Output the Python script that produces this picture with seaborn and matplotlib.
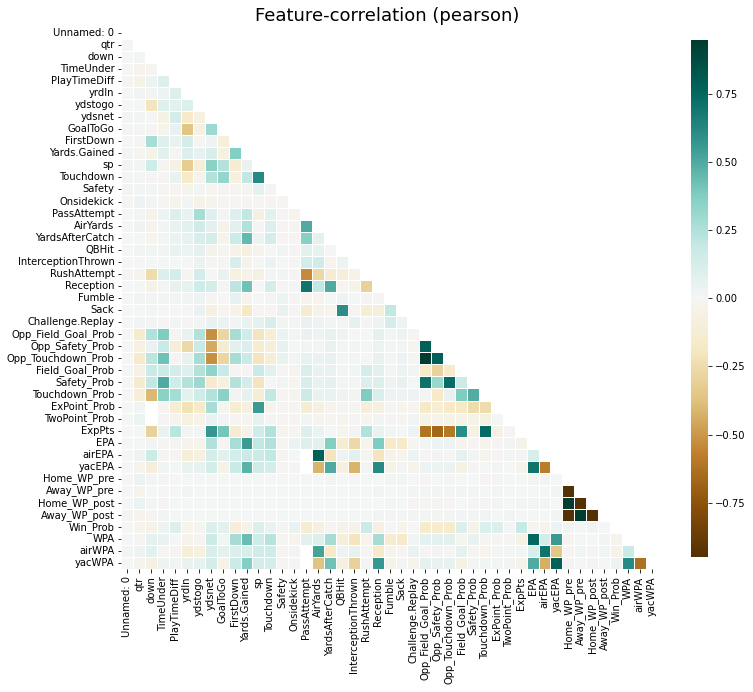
import numpy as np
import matplotlib
matplotlib.use('Agg')
import matplotlib.pyplot as plt
import seaborn as sns

features = ['Unnamed: 0', 'qtr', 'down', 'TimeUnder', 'PlayTimeDiff', 'yrdln', 'ydstogo', 'ydsnet',
            'GoalToGo', 'FirstDown', 'Yards.Gained', 'sp', 'Touchdown', 'Safety', 'Onsidekick',
            'PassAttempt', 'AirYards', 'YardsAfterCatch', 'QBHit', 'InterceptionThrown', 'RushAttempt',
            'Reception', 'Fumble', 'Sack', 'Challenge.Replay', 'Opp_Field_Goal_Prob', 'Opp_Safety_Prob',
            'Opp_Touchdown_Prob', 'Field_Goal_Prob', 'Safety_Prob', 'Touchdown_Prob', 'ExPoint_Prob',
            'TwoPoint_Prob', 'ExpPts', 'EPA', 'airEPA', 'yacEPA', 'Home_WP_pre', 'Away_WP_pre',
            'Home_WP_post', 'Away_WP_post', 'Win_Prob', 'WPA', 'airWPA', 'yacWPA']

nan = float('nan')

# lower triangle, one list per row
r_unnamed = []
r_qtr = [0.0]
r_down = [0.0, 0.01]
r_timeunder = [0.0, -0.03, -0.02]
r_playtimediff = [-0.01, -0.05, 0.03, 0.1]
r_yrdln = [0.0, 0.01, 0.01, 0.03, 0.1]
r_ydstogo = [0.0, 0.0, -0.2, 0.09, 0.08, 0.1]
r_ydsnet = [0.01, 0.01, 0.0, -0.06, 0.14, -0.17, -0.08]
r_goaltogo = [0.01, 0.01, -0.01, -0.03, 0.05, -0.36, -0.07, 0.3]
r_firstdown = [0.0, -0.01, 0.27, 0.09, 0.05, 0.14, -0.02, 0.03, -0.09]
r_yardsgained = [0.01, -0.02, -0.05, 0.08, -0.02, 0.1, 0.06, 0.12, -0.08, 0.37]
r_sp = [0.01, 0.01, 0.16, -0.02, -0.06, -0.32, -0.11, 0.35, 0.24, -0.14, 0.05]
r_touchdown = [0.01, 0.01, -0.01, -0.01, 0.05, -0.16, -0.03, 0.24, 0.32, -0.08, 0.2, 0.62]
r_safety = [0.01, 0.01, 0.01, -0.01, -0.01, -0.03, 0.02, -0.02, -0.01, -0.01, -0.02, 0.07, -0.01]
r_onsidekick = [-0.01, 0.03, 0.01, -0.02, -0.03, 0.02, -0.04, -0.03, -0.01, -0.01, -0.02, -0.01, -0.01, -0.01]
r_passattempt = [0.0, 0.01, -0.04, 0.03, 0.1, 0.05, 0.27, 0.09, 0.01, 0.1, 0.2, -0.07, 0.08, -0.01, -0.03]
r_airyards = [0.0, 0.03, -0.03, 0.01, 0.05, 0.08, 0.16, 0.08, -0.04, 0.08, 0.25, -0.01, 0.11, -0.01, -0.01, 0.5]
r_yac = [0.0, 0.0, -0.03, 0.02, 0.04, 0.06, 0.12, 0.14, -0.03, 0.17, 0.45, 0.03, 0.13, -0.01, -0.01, 0.36, 0.07]
r_qbhit = [0.0, 0.01, 0.02, 0.01, 0.05, 0.04, 0.07, -0.04, -0.01, -0.05, -0.08, -0.03, 0.0, 0.02, -0.01, 0.08, 0.06, 0.0]
r_intercept = [0.0, 0.0, 0.0, 0.0, 0.0, 0.0, 0.04, -0.02, -0.01, 0.12, -0.05, 0.0, 0.04, 0.0, -0.01, 0.13, 0.16, -0.03, 0.03]
r_rushattempt = [-0.01, -0.03, -0.25, 0.1, 0.13, -0.02, 0.13, 0.0, 0.05, -0.08, -0.05, -0.07, 0.01, 0.01, -0.01, -0.54, -0.27, -0.13, -0.11, -0.05]
r_reception = [0.0, 0.0, -0.06, 0.01, 0.06, 0.06, 0.16, 0.14, -0.01, 0.22, 0.42, 0.0, 0.13, -0.01, -0.01, 0.7, 0.2, 0.5, -0.02, -0.05, -0.3]
r_fumble = [0.0, 0.01, 0.01, 0.01, 0.01, 0.02, 0.03, -0.02, 0.0, 0.06, -0.03, 0.0, 0.01, 0.03, -0.01, -0.03, -0.03, 0.0, 0.03, 0.0, -0.01, -0.01]
r_sack = [0.0, 0.0, 0.01, 0.0, 0.0, 0.0, 0.05, -0.07, -0.01, -0.05, -0.18, -0.02, -0.01, 0.05, -0.01, -0.14, -0.05, -0.03, 0.6, -0.02, -0.12, -0.1, 0.2]
r_challenge = [0.0, 0.01, 0.01, -0.01, 0.01, -0.01, 0.01, 0.05, 0.04, 0.02, 0.05, 0.07, 0.12, 0.01, 0.01, 0.05, 0.03, 0.01, 0.02, 0.07, -0.01, 0.03, 0.13, 0.03]
r_opp_fg = [0.0, -0.15, 0.25, 0.38, -0.02, 0.05, 0.25, -0.52, -0.28, 0.27, 0.15, -0.2, -0.12, 0.04, 0.02, 0.05, 0.03, 0.06, 0.03, 0.0, 0.0, 0.07, 0.02, 0.03, -0.01]
r_opp_safety = [0.0, -0.08, 0.05, 0.18, -0.1, -0.26, 0.18, -0.45, -0.14, 0.08, 0.1, -0.14, -0.1, 0.06, 0.0, 0.01, 0.02, 0.05, 0.01, 0.01, 0.0, 0.04, 0.01, 0.02, -0.02, 0.78]
r_opp_td = [0.0, -0.16, 0.22, 0.42, -0.01, 0.06, 0.27, -0.52, -0.28, 0.27, 0.18, -0.2, -0.12, 0.05, 0.02, 0.06, 0.05, 0.06, 0.02, 0.01, 0.0, 0.05, 0.02, 0.03, -0.02, 0.95, 0.78]
r_fg = [0.0, -0.07, 0.18, 0.17, 0.13, 0.09, 0.24, 0.34, 0.18, -0.01, -0.01, 0.18, 0.08, -0.02, -0.03, 0.12, 0.05, 0.05, 0.02, 0.02, 0.13, 0.08, 0.01, 0.03, 0.02, -0.17, -0.29, -0.15]
r_safety_prob = [0.0, -0.15, 0.2, 0.5, 0.15, 0.24, 0.3, -0.15, -0.08, 0.24, 0.14, -0.2, 0.0, 0.01, -0.02, 0.12, 0.06, 0.07, 0.02, 0.02, 0.1, 0.1, 0.03, 0.06, 0.0, 0.71, 0.31, 0.73, 0.17]
r_td_prob = [0.0, -0.1, -0.4, 0.35, 0.28, 0.07, 0.15, 0.24, 0.35, 0.01, 0.06, -0.12, 0.2, -0.01, -0.02, 0.17, 0.05, 0.05, 0.03, 0.01, 0.38, 0.12, 0.03, 0.03, 0.03, 0.01, -0.17, 0.05, 0.38, 0.49]
r_expoint = [0.0, 0.01, nan, -0.01, -0.12, -0.22, -0.17, 0.27, -0.02, -0.12, -0.08, 0.55, -0.03, -0.01, -0.02, -0.13, -0.07, -0.03, -0.02, -0.02, -0.1, -0.08, -0.02, -0.03, -0.02, -0.17, -0.12, -0.17, -0.18, -0.25, -0.25]
r_twopoint = [0.0, 0.04, nan, -0.01, -0.03, -0.08, -0.04, 0.05, 0.01, -0.02, -0.01, 0.06, -0.01, -0.01, -0.01, 0.02, -0.02, -0.02, -0.03, -0.01, -0.02, 0.01, -0.01, -0.02, 0.01, -0.05, -0.03, -0.05, -0.05, -0.05, -0.07, 0.0]
r_exppts = [0.0, 0.0, -0.3, 0.05, 0.22, 0.01, 0.01, 0.57, 0.4, -0.13, -0.04, 0.16, 0.25, -0.03, -0.02, 0.1, 0.04, 0.0, -0.02, 0.01, 0.25, 0.05, 0.01, 0.0, 0.03, -0.62, -0.67, -0.6, 0.6, -0.06, 0.74, -0.06, -0.01]
r_epa = [0.0, 0.0, 0.01, -0.01, -0.01, -0.03, -0.03, 0.25, -0.01, 0.27, 0.55, 0.2, 0.25, -0.02, 0.04, 0.09, 0.08, 0.37, -0.14, -0.26, -0.03, 0.38, -0.16, -0.16, -0.02, 0.02, 0.03, 0.03, -0.03, -0.01, -0.03, -0.01, 0.01, -0.05]
r_airepa = [0.0, 0.03, 0.17, -0.02, -0.01, -0.1, -0.08, 0.14, 0.08, 0.13, 0.17, 0.17, 0.2, -0.01, 0.0, nan, 0.78, -0.2, 0.03, 0.08, -0.01, -0.2, -0.05, -0.03, 0.03, -0.01, 0.01, -0.01, 0.07, 0.01, -0.03, -0.01, 0.01, 0.01, 0.12]
r_yacepa = [0.0, -0.03, -0.1, 0.02, 0.0, 0.05, 0.06, 0.14, -0.05, 0.18, 0.47, 0.15, 0.14, -0.01, -0.01, nan, -0.42, 0.5, -0.08, -0.42, 0.01, 0.62, -0.05, 0.01, -0.03, 0.03, 0.03, 0.04, -0.06, -0.01, 0.0, 0.01, 0.0, -0.04, 0.7, -0.58]
r_home_pre = [0.0, 0.04, 0.01, -0.01, 0.0, 0.0, 0.0, 0.0, 0.0, 0.0, 0.0, 0.0, 0.0, 0.0, 0.0, 0.0, 0.0, 0.01, 0.0, 0.0, 0.0, 0.0, 0.01, 0.01, 0.0, -0.01, 0.0, -0.01, 0.0, 0.0, -0.01, 0.01, 0.0, 0.0, 0.01, 0.01, 0.0]
r_away_pre = [0.0, -0.03, 0.0, 0.0, 0.0, 0.01, 0.0, 0.0, 0.0, 0.0, 0.0, 0.0, 0.0, 0.0, 0.0, 0.0, 0.0, 0.0, 0.0, 0.0, 0.0, 0.01, 0.0, 0.0, 0.01, 0.01, 0.01, 0.01, 0.01, 0.02, 0.0, 0.01, 0.0, 0.0, 0.0, 0.0, 0.01, -0.95]
r_home_post = [0.0, 0.04, 0.01, -0.01, 0.0, 0.0, 0.0, 0.0, 0.0, 0.0, 0.0, 0.0, 0.0, 0.0, 0.0, 0.0, 0.0, 0.0, 0.0, 0.0, 0.0, 0.0, 0.01, 0.0, -0.01, -0.01, -0.01, -0.01, 0.0, -0.01, -0.01, 0.01, 0.0, 0.01, 0.01, 0.01, 0.0, 0.95, -0.95]
r_away_post = [0.01, -0.03, -0.01, 0.01, 0.0, 0.0, 0.0, 0.0, 0.0, 0.0, 0.0, 0.0, 0.0, 0.0, 0.0, 0.0, 0.0, 0.0, 0.0, 0.0, 0.0, 0.01, 0.01, 0.01, 0.01, 0.01, 0.01, 0.01, 0.01, 0.02, 0.01, 0.0, 0.01, 0.0, 0.0, 0.0, 0.01, -0.95, 0.95, -0.95]
r_win_prob = [0.0, -0.03, -0.05, 0.03, 0.1, -0.03, -0.02, 0.1, 0.08, -0.1, -0.05, 0.1, 0.05, -0.01, 0.05, -0.14, -0.08, -0.02, -0.05, -0.04, 0.17, -0.07, 0.0, -0.03, 0.0, -0.15, -0.14, -0.15, 0.1, -0.05, 0.11, 0.11, -0.01, 0.19, -0.01, -0.03, 0.03, 0.01, 0.0, 0.01, 0.0]
r_wpa = [0.0, -0.01, 0.07, 0.05, 0.0, -0.03, -0.01, 0.17, 0.02, 0.28, 0.43, 0.16, 0.23, -0.01, -0.03, 0.08, 0.1, 0.28, -0.1, -0.2, -0.03, 0.28, -0.14, -0.16, 0.01, 0.07, 0.07, 0.08, -0.02, 0.05, -0.02, -0.01, -0.01, -0.06, 0.75, 0.13, 0.56, -0.01, 0.0, 0.0, 0.01, -0.03]
r_airwpa = [0.01, 0.03, 0.08, -0.02, -0.01, -0.1, -0.08, 0.12, 0.07, 0.1, 0.12, 0.15, 0.15, -0.01, 0.01, nan, 0.53, -0.17, 0.03, 0.06, -0.01, -0.16, -0.03, -0.02, 0.05, -0.01, 0.01, -0.01, 0.07, -0.02, -0.03, 0.01, 0.01, 0.02, 0.12, 0.7, -0.35, -0.01, 0.02, -0.01, 0.02, -0.05, 0.18]
r_yacwpa = [0.0, -0.03, -0.07, 0.03, 0.01, 0.05, 0.06, 0.14, -0.05, 0.17, 0.37, 0.13, 0.13, -0.01, -0.01, nan, -0.37, 0.42, -0.07, -0.3, 0.01, 0.57, -0.04, 0.01, -0.03, 0.07, 0.05, 0.06, -0.06, 0.02, 0.02, 0.01, 0.01, -0.04, 0.5, -0.43, 0.78, 0.01, 0.0, 0.01, 0.0, 0.03, 0.62, -0.63]

rows = [r_unnamed, r_qtr, r_down, r_timeunder, r_playtimediff, r_yrdln, r_ydstogo, r_ydsnet, r_goaltogo,
        r_firstdown, r_yardsgained, r_sp, r_touchdown, r_safety, r_onsidekick, r_passattempt, r_airyards,
        r_yac, r_qbhit, r_intercept, r_rushattempt, r_reception, r_fumble, r_sack, r_challenge, r_opp_fg,
        r_opp_safety, r_opp_td, r_fg, r_safety_prob, r_td_prob, r_expoint, r_twopoint, r_exppts, r_epa,
        r_airepa, r_yacepa, r_home_pre, r_away_pre, r_home_post, r_away_post, r_win_prob, r_wpa, r_airwpa,
        r_yacwpa]

n = len(features)
corr = np.full((n, n), np.nan)
for i, row in enumerate(rows):
    corr[i, :i] = row
mask = np.triu(np.ones((n, n), dtype=bool))

W, H = 753, 692
fig = plt.figure(figsize=(W / 72, H / 72), dpi=72)
ax = fig.add_axes([121.4 / W, 1 - 569.4 / H, 536.3 / W, 542.8 / H])
cax = fig.add_axes([691 / W, 1 - 556.7 / H, 17 / W, 517 / H])

sns.heatmap(corr, mask=mask, cmap='BrBG', center=0, vmin=-0.948, vmax=0.948, linewidths=1, linecolor='white',
            xticklabels=features, yticklabels=features, ax=ax, cbar_ax=cax)
ax.set_xticklabels(features, rotation=90)
ax.set_yticklabels(features, rotation=0)
ax.set_title('Feature-correlation (pearson)', fontsize=18, x=0.4965)

plt.savefig('out.png', dpi=72)
